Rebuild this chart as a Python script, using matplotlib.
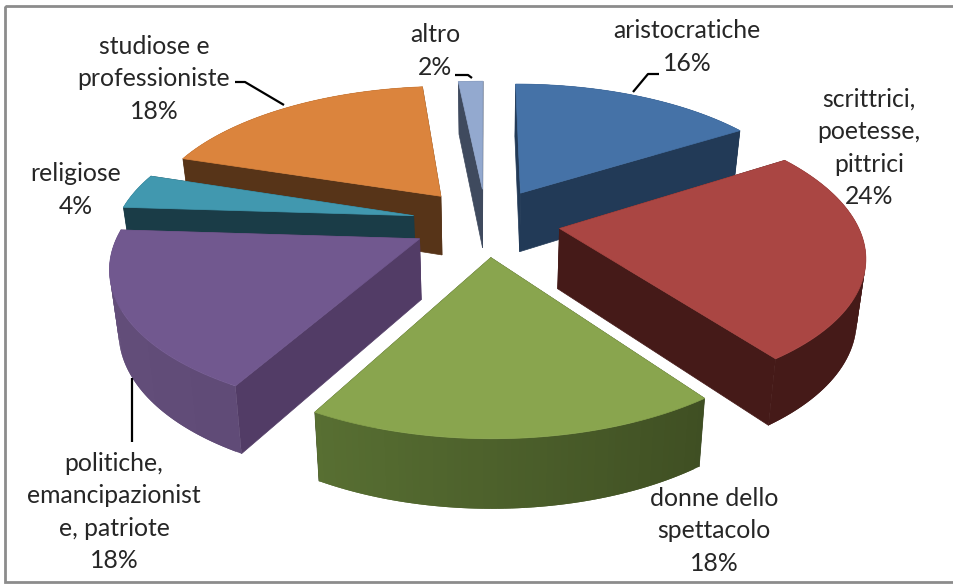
import numpy as np
import matplotlib
matplotlib.use("Agg")
import matplotlib.pyplot as plt
from matplotlib.patches import Polygon, Rectangle

# dati del grafico
categorie = ["aristocratiche", "scrittrici,\npoetesse,\npittrici", "donne dello\nspettacolo",
             "politiche,\nemancipazionist\ne, patriote", "religiose",
             "studiose e\nprofessioniste", "altro"]
percentuali = [16, 24, 18, 18, 4, 18.4, 1.6]

colori_top = ["#4572A7", "#AA4643", "#89A54E", "#71588F", "#4198AF", "#DB843D", "#93A9CF"]
colori_lato = ["#223A57", "#451A18", "#37431E", "#523C66", "#1A3C47", "#573418", "#3F4A5E"]
colori_bordo_sx = ["#223A57", "#451A18", "#647F3A", "#634E7A", "#1A3C47", "#573418", "#3F4A5E"]
colori_bordo_dx = ["#223A57", "#451A18", "#36431D", "#56416D", "#1A3C47", "#573418", "#3F4A5E"]

pos_etichette = [(687, 47), (869, 148), (714, 531), (114, 512), (76, 190), (154, 79), (435, 51)]

# geometria della torta (pixel)
CX, CY = 486, 222
A = 297
K = 0.46
P = 0.17
P2 = 0.115
Q = 0.025
SPESSORE = 60
ESPLOSO = 0.25


def proietta(X, Y, d):
    f = 1 / (1 - P * Y)
    g = 1 / (1 - P2 * Y)
    # la base si stringe un po' per la prospettiva
    return CX + A * X * f / (1 + Q * d), CY + f * A * K * Y + SPESSORE * d * g


def mescola(c1, c2, t):
    a = np.array(matplotlib.colors.to_rgb(c1))
    b = np.array(matplotlib.colors.to_rgb(c2))
    return a * (1 - t) + b * t


fig = plt.figure(figsize=(9.54, 5.84), dpi=100)
ax = fig.add_axes([0, 0, 1, 1])
ax.set_xlim(0, 954)
ax.set_ylim(584, 0)
ax.axis("off")

# cornice: il lato destro resta fuori dall'immagine
ax.add_patch(Rectangle((5, 6), 960, 576, fill=False, edgecolor="#8C8C8C", linewidth=2))

bordi = np.cumsum([0] + percentuali) / sum(percentuali) * 2 * np.pi
fette = []
for i in range(len(percentuali)):
    fette.append((i, bordi[i], bordi[i + 1]))
# dal fondo verso chi guarda
fette.sort(key=lambda s: np.cos((s[1] + s[2]) / 2), reverse=True)

for i, t0, t1 in fette:
    mid = (t0 + t1) / 2
    ox, oy = ESPLOSO * np.sin(mid), -ESPLOSO * np.cos(mid)
    tt = np.linspace(t0, t1, 60)
    rx = ox + np.sin(tt)
    ry = oy - np.cos(tt)

    # pareti radiali
    for tb in (t0, t1):
        xb, yb = ox + np.sin(tb), oy - np.cos(tb)
        quad = [proietta(ox, oy, 0), proietta(xb, yb, 0), proietta(xb, yb, 1), proietta(ox, oy, 1)]
        ax.add_patch(Polygon(quad, facecolor=colori_lato[i], edgecolor=colori_lato[i], linewidth=0.5))

    # bordo esterno a strisce sovrapposte, per la sfumatura
    for j in range(len(tt) - 1):
        k = min(j + 2, len(tt) - 1)
        quad = [proietta(rx[j], ry[j], 0), proietta(rx[k], ry[k], 0),
                proietta(rx[k], ry[k], 1), proietta(rx[j], ry[j], 1)]
        # da destra (scuro) a sinistra (chiaro)
        s = np.clip((np.sin(tt[j]) + 1) / 2, 0, 1)
        c = mescola(colori_bordo_sx[i], colori_bordo_dx[i], s)
        ax.add_patch(Polygon(quad, facecolor=c, edgecolor="none"))

    # faccia superiore
    sup = [proietta(ox, oy, 0)] + [proietta(a, b, 0) for a, b in zip(rx, ry)]
    ax.add_patch(Polygon(sup, facecolor=colori_top[i], edgecolor=colori_top[i], linewidth=0.5))

# linee guida
guide = [[(633, 92), (648, 74), (659, 74)],
         [(235, 82), (245, 82), (284, 105)],
         [(132, 378), (132, 442)],
         [(455, 75), (468, 75), (472, 78)]]
for g in guide:
    ax.plot([p[0] for p in g], [p[1] for p in g], color="black", linewidth=1.6, solid_capstyle="butt")

for nome, val, (x, y) in zip(categorie, percentuali, pos_etichette):
    ax.text(x, y, f"{nome}\n{round(val)}%", ha="center", va="center", family="Lato", fontsize=17.8,
            color="#262626", linespacing=1.5)

fig.savefig("out.png", dpi=100, facecolor="white")
